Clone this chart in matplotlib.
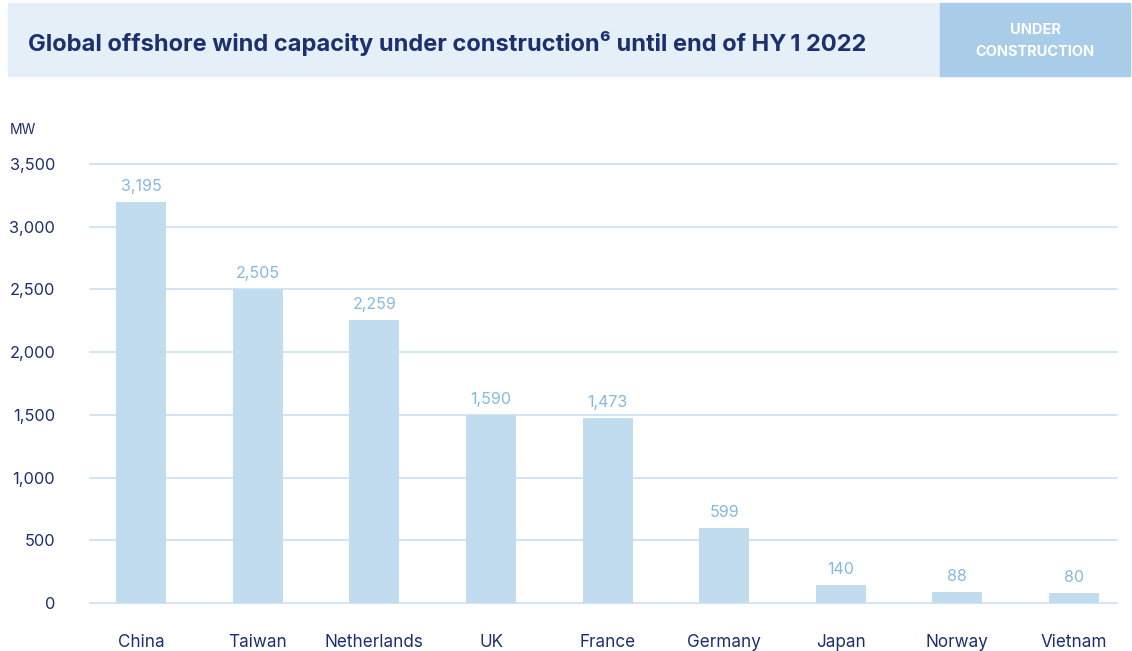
import matplotlib.pyplot as plt
from matplotlib.patches import Rectangle

countries = ['China', 'Taiwan', 'Netherlands', 'UK', 'France', 'Germany', 'Japan', 'Norway', 'Vietnam']
capacity_mw = [3195, 2505, 2259, 1590, 1473, 599, 140, 88, 80]
# bar heights as drawn in the source (UK bar stops at 1,500)
bar_height = [3195, 2505, 2259, 1500, 1473, 599, 140, 88, 80]
y_ticks = [0, 500, 1000, 1500, 2000, 2500, 3000, 3500]

NAVY = '#1c2f6e'
BAR = '#c2dcef'
GRID = '#c6def2'
VAL = '#86b9e0'
HEAD_BG = '#e5eff8'
HEAD_BOX = '#a9cde9'

plt.rcParams['font.family'] = ['Inter', 'DejaVu Sans']

W, H = 1132, 651
fig = plt.figure(figsize=(W / 100, H / 100), dpi=100)

# header band
fig.patches.append(Rectangle((8 / W, 1 - 76 / H), (940 - 8) / W, 73 / H,
                             transform=fig.transFigure, color=HEAD_BG, zorder=0))
fig.patches.append(Rectangle((940 / W, 1 - 76 / H), (1130 - 940) / W, 73 / H,
                             transform=fig.transFigure, color=HEAD_BOX, zorder=0))
fig.text(28 / W, 1 - 44 / H, 'Global offshore wind capacity under construction\u2076 until end of HY\u20091 2022',
         fontsize=17, fontweight='bold', color=NAVY, va='center', ha='left')
fig.text(1035 / W, 1 - 41 / H, 'UNDER\nCONSTRUCTION', fontsize=10.5, fontweight='bold',
         color='white', ha='center', va='center', linespacing=1.75)

ax = fig.add_axes([90 / W, 1 - 603 / H, (1117 - 90) / W, (603 - 164) / H])
x = range(len(countries))
ax.bar(x, bar_height, width=0.43, color=BAR, zorder=2)
for t in y_ticks:
    ax.axhline(t, color=GRID, lw=1.1, zorder=1, clip_on=False)
for i, v in enumerate(capacity_mw):
    ax.text(i, bar_height[i] + 65, f'{v:,}', ha='center', va='bottom', fontsize=11.5, color=VAL)

ax.set_xlim(-0.44, 8.37)
ax.set_ylim(0, 3500)
ax.set_yticks(y_ticks)
ax.set_yticklabels([f'{t:,}' for t in y_ticks])
ax.set_xticks(list(x))
ax.set_xticklabels(countries)
ax.tick_params(axis='y', length=0, pad=25, labelsize=11.8, labelcolor=NAVY)
ax.tick_params(axis='x', length=0, pad=22, labelsize=12.3, labelcolor=NAVY)
for s in ax.spines.values():
    s.set_visible(False)
fig.text(10 / W, 1 - 130 / H, 'MW', fontsize=10, color=NAVY, va='center', ha='left')

fig.savefig('out.png', dpi=100)
